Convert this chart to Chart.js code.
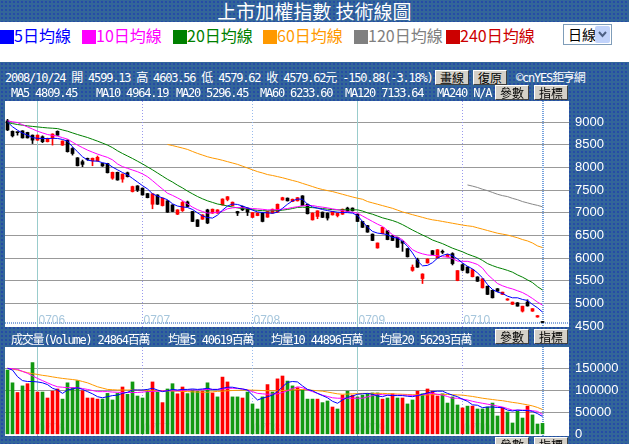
<!DOCTYPE html>
<html lang="zh-Hant">
<head>
<meta charset="utf-8">
<title>上市加權指數 技術線圖</title>
<script src="https://cdn.jsdelivr.net/npm/chart.js"></script>
<style>
  html, body { margin: 0; padding: 0; }
  body { width: 629px; height: 444px; overflow: hidden; position: relative; background: #fff;
         font-family: "Noto Sans CJK TC", sans-serif; }
  .blue { position: absolute; left: 0; width: 629px; background-color: #336699;
          background-image: radial-gradient(circle, #2244aa 0.6px, transparent 1.1px);
          background-size: 4px 4px; }
  #title { top: 0; height: 22px; color: #fff; font-size: 19px; line-height: 22px; text-align: center; }
  #panel { top: 62px; height: 382px; }
  .lg { position: absolute; top: 26px; font-size: 16px; line-height: 18px; white-space: nowrap; }
  .lg i { display: inline-block; width: 14px; height: 14px; vertical-align: -2px; }
  .info { position: absolute; color: #fff; font-family: "DejaVu Sans Mono", "Noto Sans CJK TC", monospace;
          font-size: 12px; letter-spacing: -1.2px; white-space: pre; line-height: 14px; z-index: 3; }
  .btn { position: absolute; width: 32px; height: 13px; background: #d4d0c8; border: 1px solid;
         border-color: #fff #404040 #404040 #fff; font-size: 12px; line-height: 13px;
         text-align: center; color: #000; z-index: 3; }
  #sel { position: absolute; left: 563px; top: 24px; width: 47px; height: 19px; border: 1px solid #7f9db9;
         background: #fff; font-size: 14px; line-height: 19px; }
  #sel span { padding-left: 4px; }
  #sel b { position: absolute; right: 1px; top: 1px; width: 15px; height: 17px; background: #c1d3fb;
           border-radius: 2px; }
  canvas { position: absolute; left: 0; z-index: 2; }
</style>
</head>
<body>
<div class="blue" id="title">上市加權指數 技術線圖</div>

<div class="lg" style="left:0;color:#0000ff"><i style="background:#0000ff"></i>5日均線</div>
<div class="lg" style="left:82px;color:#ff00ff"><i style="background:#ff00ff"></i>10日均線</div>
<div class="lg" style="left:173px;color:#008000"><i style="background:#008000"></i>20日均線</div>
<div class="lg" style="left:263px;color:#ff9900"><i style="background:#ff9900"></i>60日均線</div>
<div class="lg" style="left:354px;color:#808080"><i style="background:#808080"></i>120日均線</div>
<div class="lg" style="left:446px;color:#cc0000"><i style="background:#cc0000"></i>240日均線</div>
<div id="sel"><span>日線</span><b><svg width="15" height="17"><polyline points="4,6 7.5,10 11,6" fill="none" stroke="#4d6185" stroke-width="2"/></svg></b></div>

<div class="blue" id="panel"></div>

<div class="info" style="left:5px;top:71px">2008/10/24 開 4599.13 高 4603.56 低 4579.62 收 4579.62元 -150.88(-3.18%)</div>
<div class="btn" style="left:435px;top:70px">畫線</div>
<div class="btn" style="left:473px;top:70px">復原</div>
<div class="info" style="left:516px;top:71px">©cnYES鉅亨網</div>

<div class="info" style="left:11px;top:86px">MA5 4809.45</div>
<div class="info" style="left:96px;top:86px">MA10 4964.19</div>
<div class="info" style="left:176px;top:86px">MA20 5296.45</div>
<div class="info" style="left:260px;top:86px">MA60 6233.60</div>
<div class="info" style="left:345px;top:86px">MA120 7133.64</div>
<div class="info" style="left:437px;top:86px">MA240 N/A</div>
<div class="btn" style="left:495px;top:85px">參數</div>
<div class="btn" style="left:534px;top:85px">指標</div>

<div class="info" style="left:11px;top:333px">成交量(Volume) 24864百萬</div>
<div class="info" style="left:168px;top:333px">均量5 40619百萬</div>
<div class="info" style="left:271px;top:333px">均量10 44896百萬</div>
<div class="info" style="left:380px;top:333px">均量20 56293百萬</div>
<div class="btn" style="left:495px;top:329px">參數</div>
<div class="btn" style="left:534px;top:329px">指標</div>
<div class="btn" style="left:495px;top:437px">參數</div>
<div class="btn" style="left:534px;top:437px">指標</div>

<canvas id="priceChart" width="629" height="250" style="top:93px"></canvas>
<canvas id="volChart" width="629" height="105" style="top:339px"></canvas>

<script>
// Trading days 2008/05/23 .. 2008/10/24 (index 0..107)
const monthStart = [6, 27, 49, 70, 91];
const monthLabels = ['0706', '0707', '0708', '0709', '0710'];
const lastDay = 107;

const priceTicks = [4500, 5000, 5500, 6000, 6500, 7000, 7500, 8000, 8500, 9000];
const volTicks = [0, 50000, 100000, 150000];

const openP = [9030,8800,8780,8810,8775,8715,8605,8680,8570,8655,
  8800,8495,8605,8420,8215,8130,8195,8150,8145,8090,
  8090,7765,7895,7745,7885,7470,7595,7545,7425,7190,
  7395,7160,7265,7175,6970,7050,7240,7030,6845,6860,
  7065,6995,6995,7175,7295,7160,7030,7140,7105,6900,
  6940,6995,6905,6995,7015,7285,7325,7250,7265,7375,
  7190,6845,6920,7015,6995,6955,6940,6970,7105,7105,
  6970,6810,6720,6530,6225,6540,6605,6495,6460,6370,
  6210,5730,5965,5550,5895,6165,6005,6145,6030,6100,
  5505,5855,5805,5590,5585,5345,5380,5290,5325,5200,
  5075,4980,5015,4830,5030,4830,4700,4599.13];

const highP = [9065,8810,8785,8815,8780,8720,8720,8700,8650,8745,
  8810,8590,8610,8440,8220,8165,8210,8210,8255,8100,
  8095,7900,7900,7860,7900,7590,7600,7550,7430,7425,
  7400,7330,7270,7180,7070,7250,7260,7035,6850,6960,
  7080,7085,7070,7310,7360,7240,7035,7150,7110,7010,
  7000,7000,7035,7085,7195,7345,7330,7305,7340,7380,
  7195,7000,7045,7020,7000,7030,6995,7085,7125,7110,
  6975,6815,6725,6535,6335,6680,6610,6500,6465,6380,
  6215,5850,6000,5655,5985,6170,6190,6180,6085,6120,
  5725,5870,5810,5750,5590,5545,5385,5295,5330,5250,
  5105,5030,5020,4940,5080,4885,4735,4603.56];

const lowP = [8815,8675,8715,8650,8650,8530,8600,8550,8565,8495,
  8710,8490,8340,8275,8035,8020,8160,8040,8140,8025,
  7880,7740,7720,7675,7790,7460,7470,7390,7330,7090,
  7185,7150,7010,7025,6960,7030,7130,6805,6695,6855,
  6760,6990,6990,7170,7265,7155,6940,7050,6940,6895,
  6935,6800,6900,6990,7010,7280,7260,7245,7260,7160,
  6975,6840,6870,6895,6840,6950,6910,6965,7025,7040,
  6805,6675,6570,6385,6220,6535,6405,6385,6235,6150,
  6025,5710,5795,5440,5890,6075,6000,6100,6025,5850,
  5500,5720,5670,5585,5485,5340,5195,5120,5265,5195,
  5070,4975,4940,4810,4940,4825,4695,4579.62];

const closeP = [8830,8700,8770,8655,8655,8605,8715,8570,8640,8740,
  8715,8585,8350,8310,8040,8070,8180,8205,8225,8035,
  7885,7895,7725,7855,7800,7580,7500,7395,7335,7420,
  7190,7325,7015,7030,7065,7230,7140,6810,6700,6955,
  6775,7080,7065,7305,7355,7235,6995,7065,7015,7005,
  6995,6810,7030,7080,7190,7335,7265,7300,7335,7160,
  6980,6995,7045,6900,6885,7030,6995,7080,7030,7045,
  6810,6680,6575,6390,6335,6680,6410,6390,6240,6330,
  6030,5800,5800,5650,5980,6080,6185,6130,6080,5880,
  5725,5735,5675,5745,5490,5545,5200,5125,5270,5250,
  5100,5030,4940,4940,4945,4885,4730.50,4579.62];

const ma5 = [9007,8900,8824,8760,8715,8660,8645,8642,8640,8645,
  8642,8620,8583,8458,8348,8238,8165,8143,8143,8106,
  8085,8010,7950,7890,7840,7760,7680,7600,7528,7420,
  7370,7330,7290,7200,7150,7130,7118,7075,7000,6930,
  6897,6884,6950,7060,7150,7195,7185,7150,7110,7060,
  7020,7007,7000,6990,7015,7100,7190,7264,7305,7300,
  7191,7132,7103,7073,7050,7030,7015,7007,7005,6994,
  6941,6809,6686,6590,6553,6539,6517,6458,6444,6370,
  6260,6114,5940,5830,5840,5900,6000,6060,6092,6055,
  5982,5895,5820,5762,5675,5565,5418,5308,5250,5220,
  5161,5125,5125,5088,5066,4978,4905,4809.45];

const ma10 = [9029,9010,8993,8945,8897,8850,8802,8765,8729,8710,
  8693,8660,8627,8560,8495,8440,8385,8340,8297,8260,
  8224,8170,8080,8020,7983,7945,7908,7860,7798,7710,
  7616,7525,7433,7385,7330,7270,7200,7125,7070,7030,
  6994,7000,7015,7035,7090,7110,7118,7115,7103,7095,
  7088,7078,7066,7066,7070,7081,7095,7118,7135,7155,
  7162,7162,7140,7125,7110,7088,7070,7050,7030,7010,
  6994,6930,6870,6809,6750,6700,6610,6517,6460,6407,
  6300,6187,6130,6095,6070,6060,6055,6030,6026,5990,
  5935,5930,5930,5900,5860,5780,5640,5540,5440,5390,
  5350,5320,5280,5240,5180,5110,5030,4964.19];

const ma20 = [8993,8970,8950,8935,8920,8908,8897,8885,8875,8868,
  8860,8830,8802,8765,8729,8696,8663,8623,8583,8540,
  8495,8440,8370,8310,8255,8200,8140,8080,8015,7950,
  7880,7810,7740,7680,7610,7550,7480,7420,7360,7310,
  7265,7230,7195,7176,7150,7130,7110,7095,7085,7070,
  7055,7048,7044,7046,7050,7060,7075,7095,7120,7125,
  7120,7115,7105,7095,7082,7070,7066,7066,7066,7066,
  7066,7040,7000,6970,6930,6890,6860,6830,6790,6740,
  6680,6620,6565,6510,6460,6400,6360,6320,6270,6220,
  6180,6140,6090,6050,6010,5950,5880,5835,5795,5765,
  5730,5690,5630,5580,5520,5460,5370,5296.45];

const ma60Start = 32;
const ma60 = [8510,8485,8458,8430,8400,8355,8312,8275,8238,8210,
  8187,8160,8130,8100,8070,8030,7990,7950,7910,7880,
  7845,7825,7800,7775,7745,7715,7688,7650,7616,7580,
  7543,7515,7491,7470,7440,7410,7380,7350,7323,7300,
  7250,7220,7190,7160,7130,7100,7060,7020,6990,6960,
  6930,6900,6870,6846,6830,6810,6790,6770,6750,6730,
  6714,6700,6670,6640,6610,6580,6550,6530,6510,6480,
  6450,6410,6380,6334,6270,6233.6];

const ma120Start = 92;
const ma120 = [7616,7590,7560,7521,7490,7450,7410,7380,7359,7320,7290,7249,7220,7190,7165,7133.64];

// volume in 百萬
const volume = [146000,117000,95000,110000,115000,163000,96000,96000,82500,98000,
  103000,80000,117000,106000,122000,99000,82500,82500,80000,80000,
  93000,78000,93000,107500,91000,119000,87000,82500,100700,119000,
  96000,72000,103000,115000,92000,107500,92500,100700,98000,98000,
  117000,94000,85000,130000,119000,85000,85000,82500,96000,69000,
  57500,85000,113000,96000,126000,132500,121000,110000,106000,100700,
  80000,80000,80000,72000,75700,62000,57500,89000,98000,89000,
  85000,89000,92000,94000,94000,80000,82500,92000,82500,82500,
  69000,78000,98000,92000,103000,98000,87000,92000,71000,85000,
  66600,60000,64000,64000,57500,57500,62000,71000,41600,60000,
  50700,25700,53000,37000,64000,44000,23400,24864];

// 1 = red bar, 0 = green bar
const volUp = [0,0,1,0,1,0,1,0,1,1, 1,0,0,0,0,1,1,1,1,0, 0,0,0,1,0,0,0,0,0,1,
  0,1,0,0,1,1,0,0,0,1, 0,1,0,1,1,0,0,1,0,0, 0,0,1,0,1,1,0,0,1,0,
  0,0,1,0,0,1,0,1,0,1, 0,0,0,0,0,1,0,1,0,1, 0,0,1,0,1,1,1,0,0,0,
  0,1,0,1,0,0,0,0,0,1, 0,0,0,0,1,0,0,0];

const volMa5 = [150000,146000,131000,122000,120000,120000,119000,117000,113000,104600,
  100700,93000,100700,103000,106000,102000,97000,92000,85500,83000,
  85500,88000,89000,93000,95500,100700,100700,100700,102000,104600,
  100700,97000,99000,102000,100700,102000,102000,103000,102000,103000,
  104600,102000,102000,104600,107000,107000,104600,103000,100700,89000,
  78000,82000,85500,89000,97000,108000,118000,120000,119000,110000,
  102000,99000,93000,88000,83000,75000,70500,78000,84000,87000,
  91000,92000,93000,91000,87000,85500,89000,88000,88000,88000,
  86500,85500,88000,91000,94000,97000,98000,98000,93000,89000,
  85500,79600,75000,67000,66000,60500,62000,62000,61000,60500,
  55000,53000,55000,54000,54000,52000,47000,40619];

const volMa10 = [150000,149000,147600,143000,138600,133000,127000,122000,117000,112000,
  108000,107000,106000,106000,106000,104000,102000,99500,97000,97000,
  97000,96000,95500,95000,95000,95000,95000,96000,97000,97500,
  98000,98500,99000,99000,99000,100000,100700,100700,100700,101500,
  102000,102000,102000,103000,104600,104600,104600,103000,100700,97000,
  93000,92000,91000,91500,92000,95000,99000,104000,108000,106000,
  101000,97000,93000,89000,86000,83000,82000,82000,82000,82000,
  82000,82000,85000,88000,91000,90000,89000,89000,89000,89000,
  89000,88500,88000,90000,92000,93000,91000,89000,86000,82000,
  82000,80000,78000,75000,72500,70500,68500,66600,64000,62000,
  58500,55000,55000,55000,55000,53500,52000,44896];

const volMa20 = [150000,148000,146000,143000,140000,138000,136000,134000,132500,130500,
  128700,127000,125700,124500,123000,120000,117000,112500,108000,105000,
  102000,101300,100700,100700,100700,100700,100300,100000,99500,99000,
  99000,99000,99000,98500,98000,97500,97000,96500,96000,95700,
  95500,96500,97500,98000,99000,99500,100000,100500,100700,100300,
  100000,99500,99000,99000,99000,99500,100000,101000,101500,102000,
  101000,100000,99000,98000,96000,94000,92000,91000,91500,92000,
  92500,93000,93000,93000,93000,93000,92500,92000,91500,91000,
  90500,90000,89500,89000,89500,90000,90500,91000,90500,90000,
  89500,89000,87500,86000,84000,82000,80500,79000,77500,76400,
  74500,72500,71000,69000,67000,64500,61000,56293];

// month divider styles
const monthLineColor = ['#99cccc', '#9999ee', '#99bbee', '#99cccc', '#9999ee'];
const monthLineDash = [[], [1, 2], [1, 2], [], [1, 2]];

Chart.defaults.font.family = '"Liberation Sans Narrow", "Liberation Sans", sans-serif';
Chart.defaults.font.size = 13;
Chart.defaults.color = '#ffffff';

const candleColor = i => closeP[i] >= openP[i] ? '#ff0000' : '#000000';
const days = closeP.map((_, i) => i);

// white plot area, month dividers and month labels
const paper = {
  id: 'paper',
  beforeDraw(chart) {
    const {ctx, chartArea: a} = chart;
    ctx.save();
    ctx.fillStyle = '#ffffff';
    ctx.fillRect(a.left, a.top, a.right - a.left, a.bottom - a.top);
    ctx.restore();
  },
  beforeDatasetsDraw(chart, args, opts) {
    const {ctx, chartArea: a, scales: {x}} = chart;
    ctx.save();
    if (opts.axisLine) {
      ctx.strokeStyle = '#88aadd';
      ctx.lineWidth = 2;
      ctx.setLineDash([1, 1]);
      ctx.beginPath();
      ctx.moveTo(a.left, a.bottom - 4);
      ctx.lineTo(a.right, a.bottom - 4);
      ctx.stroke();
    }
    monthStart.forEach((d, k) => {
      const px = x.getPixelForValue(d);
      ctx.strokeStyle = monthLineColor[k];
      ctx.setLineDash(monthLineDash[k]);
      ctx.lineWidth = 1;
      ctx.beginPath();
      ctx.moveTo(px, a.top);
      ctx.lineTo(px, a.bottom);
      ctx.stroke();
      ctx.fillStyle = opts.labelColor;
      ctx.font = '12px "Liberation Sans"';
      ctx.textBaseline = 'middle';
      ctx.fillText(monthLabels[k], px + 1, a.bottom - opts.labelOffset);
    });
    const lx = x.getPixelForValue(lastDay) + 0.5;
    ctx.strokeStyle = '#77a3dd';
    ctx.lineWidth = 2;
    ctx.setLineDash([1, 1]);
    ctx.beginPath();
    ctx.moveTo(lx, a.top);
    ctx.lineTo(lx, a.bottom);
    ctx.stroke();
    ctx.restore();
  }
};

function xAxis() {
  return { type: 'linear', min: -0.5, max: 112.3, offset: false, display: false };
}

function yAxis(min, max, ticks) {
  return {
    type: 'linear', position: 'right', min: min, max: max,
    afterBuildTicks: s => { s.ticks = ticks.map(v => ({value: v})); },
    afterFit: s => { s.width = 60; s.paddingTop = 0; s.paddingBottom = 0; },
    grid: {
      color: c => c.tick && c.tick.value === ticks[0] ? 'rgba(0,0,0,0)' : '#999999',
      drawTicks: false, lineWidth: 1
    },
    border: { display: false },
    ticks: { color: '#ffffff', padding: 6, callback: v => String(v) }
  };
}

function maLine(vals, start, color) {
  return {
    type: 'line',
    data: vals.map((v, k) => ({x: start + k, y: v})),
    borderColor: color, borderWidth: 1, pointRadius: 0, tension: 0, order: 0
  };
}

new Chart(document.getElementById('priceChart'), {
  type: 'bar',
  data: {
    datasets: [
      maLine(ma5, 0, '#0000ff'),
      maLine(ma10, 0, '#ff00ff'),
      maLine(ma20, 0, '#008000'),
      maLine(ma60, ma60Start, '#ff9900'),
      maLine(ma120, ma120Start, '#888888'),
      {
        data: days.map(i => ({x: i, y: [openP[i], closeP[i]]})),
        backgroundColor: c => candleColor(c.dataIndex),
        barThickness: 3, minBarLength: 1, grouped: false, order: 1
      },
      {
        data: days.map(i => ({x: i, y: [lowP[i], highP[i]]})),
        backgroundColor: c => candleColor(c.dataIndex),
        barThickness: 1, grouped: false, order: 2
      }
    ]
  },
  options: {
    responsive: false, animation: false, events: [],
    layout: { padding: { left: 5, top: 8, bottom: 16, right: 0 } },
    scales: { x: xAxis(), y: yAxis(4480, 9469, priceTicks) },
    plugins: {
      legend: { display: false }, tooltip: { enabled: false },
      paper: { labelColor: '#a6c6dc', labelOffset: 6, axisLine: true }
    }
  },
  plugins: [paper]
});

new Chart(document.getElementById('volChart'), {
  type: 'bar',
  data: {
    datasets: [
      maLine(volMa5, 0, '#0000ff'),
      maLine(volMa10, 0, '#ff00ff'),
      maLine(volMa20, 0, '#ff9900'),
      {
        data: days.map(i => ({x: i, y: volume[i]})),
        backgroundColor: c => volUp[c.dataIndex] ? '#ff0000' : '#119911',
        barThickness: 3, grouped: false, order: 1
      }
    ]
  },
  options: {
    responsive: false, animation: false, events: [],
    layout: { padding: { left: 5, top: 8, bottom: 8, right: 0 } },
    scales: { x: xAxis(), y: yAxis(-3864, 198409, volTicks) },
    plugins: {
      legend: { display: false }, tooltip: { enabled: false },
      paper: { labelColor: '#e2e8ef', labelOffset: 7, axisLine: false }
    }
  },
  plugins: [paper]
});
</script>
</body>
</html>
